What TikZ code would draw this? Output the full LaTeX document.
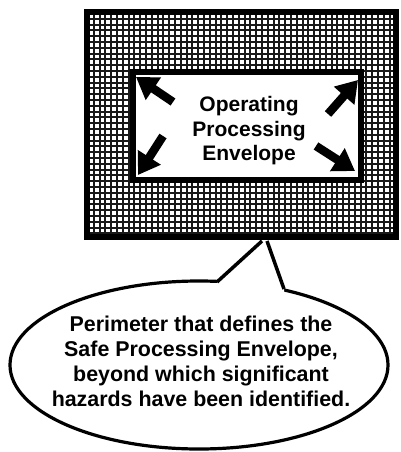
\documentclass[tikz,border=0pt]{standalone}
\usepackage{fontspec}
\setmainfont{Liberation Sans}
\usetikzlibrary{arrows.meta}
\tikzset{
  gridline/.style={draw=black!90, line width=1.9pt},
  frame/.style={draw=black, line width=6pt},
  bigarrow/.style={line width=8.5pt, -{Triangle[length=21pt,width=26pt]}},
  tailline/.style={draw=black, line width=3.5pt, line join=round},
  lbl/.style={font=\bfseries\fontsize{21}{24.5}\selectfont, align=center, inner sep=0pt},
  lbl2/.style={font=\bfseries\fontsize{21.4}{25}\selectfont, align=center, inner sep=0pt}
}
\begin{document}
\begin{tikzpicture}[x=1pt,y=-1pt]
\useasboundingbox (0,0) rectangle (400,452);
\fill[white] (0,0) rectangle (400,452);
% grid
\begin{scope}
\clip (87,12) rectangle (396,237);
\foreach \i in {0,...,54} \draw[gridline] (88+\i*5.8,12) -- (88+\i*5.8,237);
\foreach \j in {0,...,39} \draw[gridline] (87,13+\j*5.8) -- (396,13+\j*5.8);
\end{scope}
% outer frame
\draw[frame] (87,12) rectangle (396,237);
% inner box
\filldraw[fill=white, frame] (133,72) rectangle (361,180);
\node[lbl] (inner) at (249,131) {Operating\\Processing\\Envelope};
% arrows
\coordinate (tlt) at (136,77);  \coordinate (tlb) at (173,102);
\coordinate (trt) at (358,80);  \coordinate (trb) at (328,114);
\coordinate (blt) at (138,175); \coordinate (blb) at (163,136);
\coordinate (brt) at (355,171); \coordinate (brb) at (316,146);
\draw[bigarrow] (tlb) -- (tlt);
\draw[bigarrow] (trb) -- (trt);
\draw[bigarrow] (blb) -- (blt);
\draw[bigarrow] (brb) -- (brt);
% callout
\draw[fill=white, line width=3.2pt] (199,365) ellipse [x radius=189, y radius=84];
\coordinate (ta) at (217,282);
\coordinate (tb) at (262,241);
\coordinate (tc) at (267,241);
\coordinate (td) at (284,289);
\fill[white] (ta) -- (tb) -- (tc) -- (td) -- (284,300) -- (217,292) -- cycle;
\draw[tailline] (ta) -- (tb);
\draw[tailline] (tc) -- (td);
\node[lbl2] (callout) at (201,361.7) {Perimeter that defines the\\Safe Processing Envelope,\\beyond which significant\\hazards have been identified.};
\end{tikzpicture}
\end{document}
